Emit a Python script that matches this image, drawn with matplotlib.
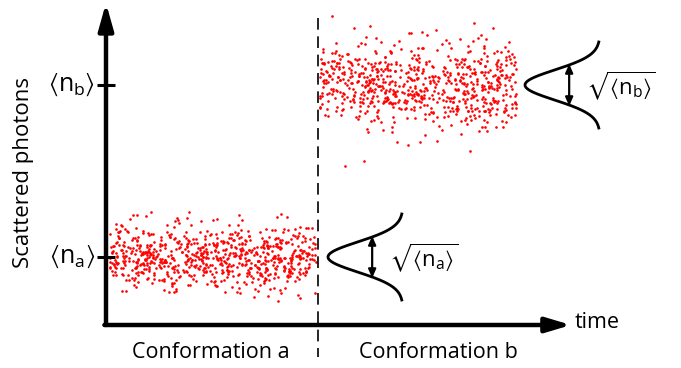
import numpy as np
import matplotlib
matplotlib.use("Agg")
import matplotlib.pyplot as plt

plt.rcParams['font.family'] = ['Open Sans', 'DejaVu Sans']
plt.rcParams['mathtext.fontset'] = 'custom'
plt.rcParams['mathtext.rm'] = 'Open Sans'
plt.rcParams['mathtext.it'] = 'Open Sans'
plt.rcParams['mathtext.fallback'] = 'stixsans'

# ---- schematic values (time axis in arbitrary units, photons in arbitrary units)
state_labels = ["Conformation a", "Conformation b"]
state_means = [68, 240]          # <n_a>, <n_b>
state_spread = [16, 22]          # visual spread of each cloud
state_t_start = [3, 213]
state_t_end = [210, 411]
state_counts = [760, 720]
switch_time = 212
tick_labels = [r"$\langle\mathrm{n_a}\rangle$", r"$\langle\mathrm{n_b}\rangle$"]
sigma_labels = [r"$\sqrt{\langle\mathrm{n_a}\rangle}$", r"$\sqrt{\langle\mathrm{n_b}\rangle}$"]

# noise clouds (illustrative shot noise, fixed seed)
rng = np.random.default_rng(7)
clouds = []
for m, s, t0, t1, n in zip(state_means, state_spread, state_t_start, state_t_end, state_counts):
    t = rng.uniform(t0, t1, n)
    y = m + s * rng.standard_normal(n)
    clouds.append((t, y))

fig = plt.figure(figsize=(6.81, 3.68), dpi=100)
ax = fig.add_axes([0, 0, 1, 1])
ax.set_xlim(-106, 575)
ax.set_ylim(-43, 325)
ax.axis('off')

for t, y in clouds:
    ax.scatter(t, y, s=3.6, color='#ff0000', linewidths=0, zorder=2)

# axes arrows
ax.annotate('', xy=(0, 322), xytext=(0, 0),
            arrowprops=dict(arrowstyle='-|>,head_length=1.6,head_width=0.45', lw=3.2, color='black',
                            shrinkA=0, shrinkB=0), zorder=3)
ax.annotate('', xy=(465, 0), xytext=(-1.6, 0),
            arrowprops=dict(arrowstyle='-|>,head_length=1.5,head_width=0.45', lw=3.2, color='black',
                            shrinkA=0, shrinkB=0), zorder=3)
ax.text(469, 3, "time", fontsize=15.5, ha='left', va='center')

# ticks and labels
for m, lab in zip(state_means, tick_labels):
    ax.plot([-9, 9], [m, m], color='black', lw=2.2, solid_capstyle='butt', zorder=3)
    ax.text(-11, m, lab, fontsize=18, ha='right', va='center')

ax.text(-82, 153, "Scattered photons", fontsize=16, rotation=90, ha='center', va='center')

# dashed switch line
ax.plot([switch_time, switch_time], [307, -32], color='black', lw=1.2, dashes=(7, 4), zorder=3)

# state labels
ax.text(105, -27, state_labels[0], fontsize=15.5, ha='center', va='center')
ax.text(332, -27, state_labels[1], fontsize=15.5, ha='center', va='center')

# distribution sketches
curve_x0 = [222, 419]
for m, x0, lab in zip(state_means, curve_x0, sigma_labels):
    dy = np.linspace(-43, 43, 200)
    x = x0 + 75 * (1 - np.exp(-dy**2 / (2 * 15**2)))
    ax.plot(x, m + dy, color='black', lw=2.0, zorder=3)
    xa = x0 + 75 * (1 - np.exp(-20**2 / (2 * 15**2)))
    ax.annotate('', xy=(xa, m + 21), xytext=(xa, m - 21),
                arrowprops=dict(arrowstyle='<|-|>,head_length=0.5,head_width=0.22', lw=1.6,
                                color='black', shrinkA=0, shrinkB=0), zorder=3)
    ax.text(xa + 17, m - 1, lab, fontsize=16, ha='left', va='center')

fig.savefig("out.png", dpi=100)
